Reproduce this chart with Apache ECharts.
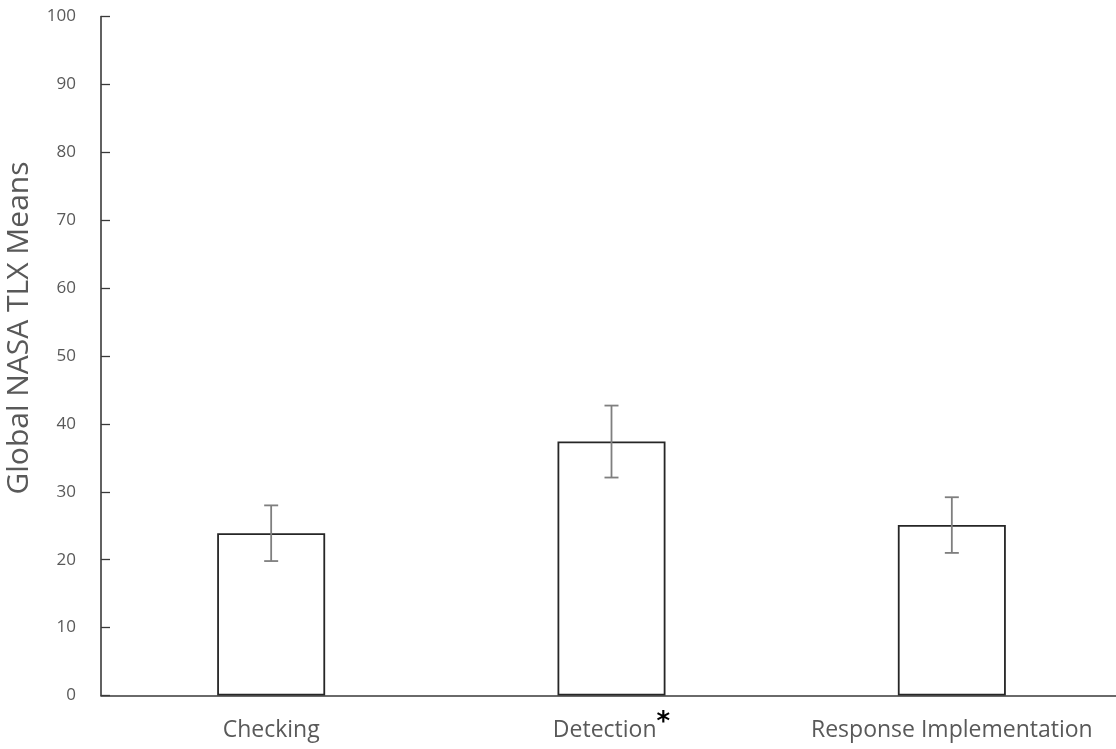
<!DOCTYPE html>
<html>
<head>
<meta charset="utf-8">
<script src="https://cdn.jsdelivr.net/npm/echarts@6/dist/echarts.min.js"></script>
<style>
html,body{margin:0;padding:0;background:#fff;}
#main{width:1116px;height:749px;}
</style>
</head>
<body>
<div id="main"></div>
<script>
const categories = ["Checking", "Detection", "Response Implementation"];
const means = [23.9, 37.4, 25.1];
const errors = [4.1, 5.3, 4.1];
const yTicks = {min: 0, max: 100, interval: 10};

const chart = echarts.init(document.getElementById('main'));
const errData = categories.map((c, i) => [i, means[i] - errors[i], means[i] + errors[i]]);

chart.setOption({
  animation: false,
  grid: {left: 101, top: 16.5, width: 1021, height: 679, containLabel: false, outerBoundsMode: 'none'},
  xAxis: {
    type: 'category',
    data: categories,
    boundaryGap: true,
    axisLine: {lineStyle: {color: '#3a3a3a', width: 1.6}},
    axisTick: {inside: true, length: 8, lineStyle: {color: '#3a3a3a', width: 1.3}},
    axisLabel: {
      interval: 0,
      hideOverlap: false,
      margin: 15,
      lineHeight: 40,
      fontFamily: 'Open Sans',
      fontSize: 23,
      color: '#595959',
      formatter: function (v) { return v === 'Detection' ? v + '{star|*}' : v; },
      rich: {star: {color: '#000', fontSize: 26, lineHeight: 22, fontWeight: 'bold', fontFamily: 'DejaVu Sans', verticalAlign: 'top'}}
    },
    splitLine: {show: false}
  },
  yAxis: {
    type: 'value',
    min: yTicks.min, max: yTicks.max, interval: yTicks.interval,
    name: 'Global NASA TLX Means',
    nameLocation: 'middle',
    nameGap: 67,
    nameRotate: 90,
    nameTextStyle: {fontFamily: 'Open Sans', fontSize: 30, color: '#595959', padding: [0, 0, 0, 56]},
    axisLine: {show: true, lineStyle: {color: '#3a3a3a', width: 1.6}},
    axisTick: {show: true, inside: true, length: 9, lineStyle: {color: '#3a3a3a', width: 1.3}},
    axisLabel: {margin: 25, fontFamily: 'Open Sans', fontSize: 17, color: '#595959'},
    splitLine: {show: false}
  },
  series: [
    {
      type: 'bar',
      data: means,
      barWidth: 108,
      itemStyle: {color: '#ffffff', borderColor: '#262626', borderWidth: 1.8}
    },
    {
      type: 'custom',
      data: errData,
      z: 10,
      renderItem: function (params, api) {
        const x = api.value(0);
        const lo = api.coord([x, api.value(1)]);
        const hi = api.coord([x, api.value(2)]);
        const half = 7;
        const style = {stroke: '#7f7f7f', lineWidth: 1.8};
        return {
          type: 'group',
          children: [
            {type: 'line', shape: {x1: lo[0], y1: lo[1], x2: hi[0], y2: hi[1]}, style: style},
            {type: 'line', shape: {x1: lo[0] - half, y1: lo[1], x2: lo[0] + half, y2: lo[1]}, style: style},
            {type: 'line', shape: {x1: hi[0] - half, y1: hi[1], x2: hi[0] + half, y2: hi[1]}, style: style}
          ]
        };
      }
    }
  ]
});
</script>
</body>
</html>
